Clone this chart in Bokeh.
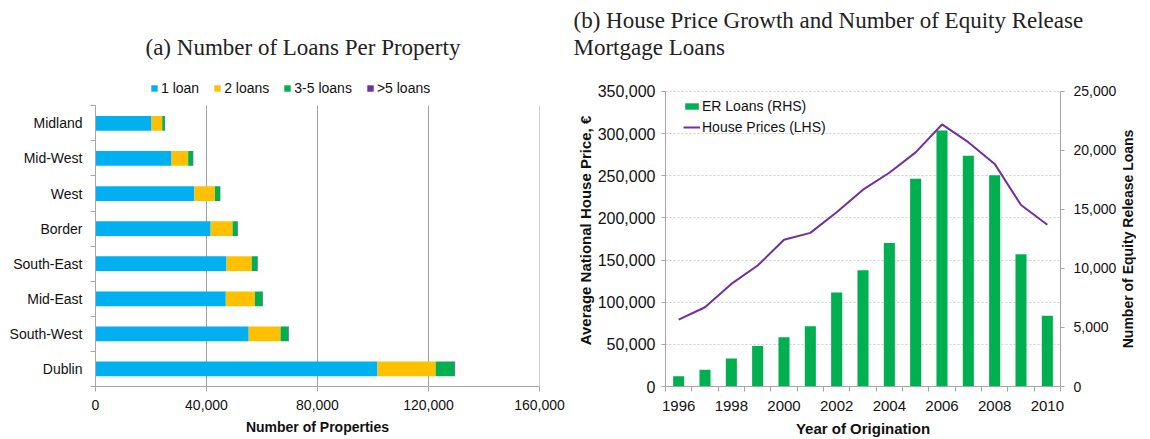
from bokeh.plotting import figure
from bokeh.layouts import row
from bokeh.models import (Range1d, LinearAxis, FixedTicker, NumeralTickFormatter,
                          Legend, LegendItem, Title, ColumnDataSource)
from bokeh.core.properties import value
from bokeh.embed import file_html
from bokeh.resources import INLINE
import math

# ---------------- Data: panel (a) ----------------
regions = ["Midland", "Mid-West", "West", "Border", "South-East", "Mid-East", "South-West", "Dublin"]
loan_groups = ["1 loan", "2 loans", "3-5 loans", ">5 loans"]
one_loan = [20200, 27400, 35600, 41500, 47200, 46950, 55200, 101600]
two_loans = [3850, 6000, 7450, 7900, 9100, 10500, 11500, 21000]
three_five_loans = [950, 1750, 1850, 1850, 2100, 2800, 2900, 6700]
over_five_loans = [60, 80, 90, 100, 110, 120, 130, 300]
x_ticks_a = [0, 40000, 80000, 120000, 160000]

# ---------------- Data: panel (b) ----------------
years = [1996, 1997, 1998, 1999, 2000, 2001, 2002, 2003, 2004, 2005, 2006, 2007, 2008, 2009, 2010]
er_loans = [860, 1420, 2370, 3430, 4180, 5100, 7970, 9850, 12150, 17610, 21680, 19540, 17890, 11200, 5990]
house_prices = [79200, 94000, 121700, 143500, 174000, 182200, 206700, 233400, 253500, 277700,
                310800, 289800, 264000, 215300, 191900]
year_labels = [1996, 1998, 2000, 2002, 2004, 2006, 2008, 2010]
lhs_ticks = [0, 50000, 100000, 150000, 200000, 250000, 300000, 350000]
rhs_ticks = [0, 5000, 10000, 15000, 20000, 25000]

BLUE, YELLOW, GREEN, PURPLE = "#00b0f0", "#ffc000", "#00b050", "#7030a0"
SANS = "Liberation Sans"
SERIF = "Liberation Serif"
AXIS_GREY = "#a6a6a6"
TXT = "#111111"
TITLE_COL = "#222222"

# layout geometry (pixels, page coordinates)
H = 439
TOP = 74                 # common frame top (frames are aligned across the row)
BOTTOM = 51              # common bottom border
FRAME_B = H - BOTTOM     # frame bottom on the page
FRAME_H = FRAME_B - TOP
CAT_TOP_A = 105.5        # (a): top of the category area
AXIS_TOP_B = 91          # (b): position of the top value tick
LEG_A_BOTTOM = 98.5      # (a): bottom edge of the legend
LEG_B_BOTTOM = 137.5     # (b): bottom edge of the legend


def spacer_title(gap):
    return Title(text=" ", text_font_size="1px", standoff=gap)


def style_axis(ax, tick_size, label_size):
    ax.axis_line_color = AXIS_GREY
    ax.major_label_text_font = SANS
    ax.major_label_text_font_size = tick_size
    ax.major_label_text_color = TXT
    ax.axis_label_text_font = SANS
    ax.axis_label_text_font_size = label_size
    ax.axis_label_text_font_style = "bold"
    ax.axis_label_text_color = TXT


# ================= Panel (a) =================
n = len(regions)
pos = [n - 1 - i for i in range(n)]
src = ColumnDataSource(dict(pos=pos, one=one_loan, two=two_loans,
                            three=three_five_loans, five=over_five_loans))
slot = (FRAME_B - CAT_TOP_A) / n
p1 = figure(width=573, height=H, x_range=Range1d(x_ticks_a[0], x_ticks_a[-1]),
            y_range=Range1d(-0.5, n - 0.5 + (CAT_TOP_A - TOP) / slot), output_backend="svg",
            toolbar_location=None, title=None, min_border_left=95, min_border_right=34,
            min_border_top=TOP, min_border_bottom=BOTTOM)
p1.outline_line_color = None

# vertical grid lines limited to the category area
p1.segment(x0=x_ticks_a[1:], x1=x_ticks_a[1:], y0=[-0.5] * 4, y1=[n - 0.5] * 4,
           line_color="#a0a0a0", line_width=1)

rs = p1.hbar_stack(["one", "two", "three", "five"], y="pos", height=0.42,
                   color=[BLUE, YELLOW, GREEN, PURPLE], line_color=None, source=src)

p1.xaxis.ticker = FixedTicker(ticks=x_ticks_a)
p1.xaxis.formatter = NumeralTickFormatter(format="0,0")
p1.xaxis.axis_label = "Number of Properties"
p1.xaxis.minor_tick_line_color = None
p1.xaxis.major_tick_out = 5
p1.xaxis.major_tick_in = 0
p1.xaxis.major_tick_line_color = AXIS_GREY
p1.xaxis.major_label_standoff = 8
p1.xaxis.axis_label_standoff = 6

p1.yaxis.ticker = FixedTicker(ticks=pos, minor_ticks=[p - 0.5 for p in pos] + [n - 0.5])
p1.yaxis.major_label_overrides = {p: r for p, r in zip(pos, regions)}
p1.yaxis.bounds = (-0.5, n - 0.5)
p1.yaxis.minor_tick_out = 5
p1.yaxis.minor_tick_in = 0
p1.yaxis.minor_tick_line_color = AXIS_GREY
p1.yaxis.major_tick_out = 0
p1.yaxis.major_tick_in = 0
p1.yaxis.major_tick_line_color = None
p1.yaxis.major_label_standoff = 8
style_axis(p1.xaxis[0], "14px", "14px")
style_axis(p1.yaxis[0], "14px", "14px")
p1.xgrid.grid_line_color = None
p1.ygrid.grid_line_color = None

leg1 = Legend(items=[LegendItem(label=g, renderers=[r]) for g, r in zip(loan_groups, rs)],
              orientation="horizontal", location=(55, FRAME_B - LEG_A_BOTTOM),
              glyph_width=8, glyph_height=8, label_standoff=3, spacing=14, padding=0,
              margin=0, border_line_color=None, background_fill_alpha=0,
              label_text_font=SANS, label_text_font_size="14px", label_text_color=TXT,
              label_height=17)
p1.add_layout(leg1)
p1.add_layout(spacer_title(12), "above")
p1.add_layout(Title(text="(a) Number of Loans Per Property", align="left", offset=50,
                    text_font=SERIF, text_font_size="23px", text_font_style="normal",
                    text_color=TITLE_COL, standoff=0), "above")

# ================= Panel (b) =================
axis_px = FRAME_B - AXIS_TOP_B
lhs_end = lhs_ticks[-1] * FRAME_H / axis_px
rhs_end = rhs_ticks[-1] * FRAME_H / axis_px

p2 = figure(width=546, height=H, x_range=Range1d(years[0] - 0.5, years[-1] + 0.5),
            y_range=Range1d(lhs_ticks[0], lhs_end), output_backend="svg",
            toolbar_location=None, title=None, min_border_left=92, min_border_right=59,
            min_border_top=TOP, min_border_bottom=BOTTOM)
p2.outline_line_color = None
p2.extra_y_ranges = {"rhs": Range1d(rhs_ticks[0], rhs_end)}

bars = p2.vbar(x=years, top=er_loans, width=0.42, y_range_name="rhs",
               fill_color=GREEN, line_color=None)
line = p2.line(years, house_prices, line_color=PURPLE, line_width=2)

p2.xaxis.ticker = FixedTicker(ticks=year_labels,
                              minor_ticks=[y - 0.5 for y in years] + [years[-1] + 0.5])
p2.xaxis.major_tick_line_color = None
p2.xaxis.major_tick_out = 0
p2.xaxis.major_tick_in = 0
p2.xaxis.minor_tick_out = 5
p2.xaxis.minor_tick_in = 0
p2.xaxis.minor_tick_line_color = AXIS_GREY
p2.xaxis.axis_label = "Year of Origination"
p2.xaxis.major_label_standoff = 9
p2.xaxis.axis_label_standoff = 6
style_axis(p2.xaxis[0], "15px", "15px")

p2.yaxis.ticker = FixedTicker(ticks=lhs_ticks)
p2.yaxis.formatter = NumeralTickFormatter(format="0,0")
p2.yaxis.axis_label = "Average National House Price, €"
p2.yaxis.bounds = (lhs_ticks[0], lhs_ticks[-1])
p2.yaxis.minor_tick_line_color = None
p2.yaxis.major_tick_out = 4
p2.yaxis.major_tick_in = 0
p2.yaxis.major_tick_line_color = AXIS_GREY
p2.yaxis.major_label_standoff = 6
p2.yaxis.axis_label_standoff = 1
style_axis(p2.yaxis[0], "16px", "15px")

rax = LinearAxis(y_range_name="rhs", ticker=FixedTicker(ticks=rhs_ticks),
                 formatter=NumeralTickFormatter(format="0,0"),
                 bounds=(rhs_ticks[0], rhs_ticks[-1]))
rax.minor_tick_line_color = None
rax.major_tick_out = 4
rax.major_tick_in = 0
rax.major_tick_line_color = AXIS_GREY
rax.major_label_standoff = 9
style_axis(rax, "14px", "14px")
p2.add_layout(rax, "right")

p2.xgrid.grid_line_color = None
p2.ygrid.ticker = FixedTicker(ticks=lhs_ticks[1:])
p2.ygrid.grid_line_color = "#cfcfcf"
p2.ygrid.grid_line_dash = "2 2"

leg2 = Legend(items=[LegendItem(label="ER Loans (RHS)", renderers=[bars]),
                     LegendItem(label="House Prices (LHS)", renderers=[line])],
              location=(18, FRAME_B - LEG_B_BOTTOM), glyph_width=17, glyph_height=8,
              label_standoff=2, spacing=4, padding=0, margin=0, border_line_color=None,
              background_fill_alpha=0, label_text_font=SANS, label_text_font_size="14px",
              label_text_color=TXT, label_height=17)
p2.add_layout(leg2)

p2.add_layout(spacer_title(12), "above")
p2.add_layout(Title(text="Mortgage Loans", align="left", offset=-92,
                    text_font=SERIF, text_font_size="23px", text_font_style="normal",
                    text_color=TITLE_COL, standoff=0), "above")
p2.add_layout(Title(text="(b) House Price Growth and Number of Equity Release", align="left",
                    offset=-92, text_font=SERIF, text_font_size="23px",
                    text_font_style="normal", text_color=TITLE_COL, standoff=0), "above")

# ================= right-hand axis title (reads bottom-to-top) =================
p3 = figure(width=17, height=H, x_range=Range1d(0, 1), y_range=Range1d(rhs_ticks[0], rhs_end),
            output_backend="svg", toolbar_location=None, title=None,
            x_axis_type=None, y_axis_type=None, min_border_left=0, min_border_right=0,
            min_border_top=TOP, min_border_bottom=BOTTOM)
p3.outline_line_color = None
p3.text(x=[0.5], y=[(rhs_ticks[0] + rhs_ticks[-1]) / 2], text=["Number of Equity Release Loans"],
        angle=math.pi / 2, text_align="center", text_baseline="middle",
        text_font=value(SANS), text_font_size="14px", text_font_style="bold", text_color=TXT)

layout = row(p1, p2, p3)
open("out.html", "w").write(file_html(layout, INLINE))
